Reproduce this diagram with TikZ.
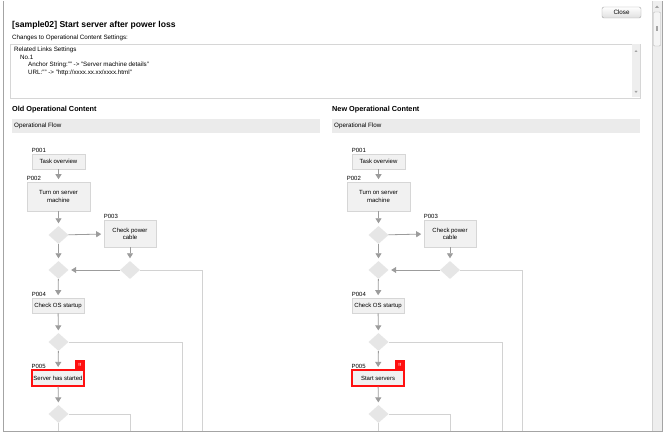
\documentclass[tikz,border=0pt]{standalone}
\usepackage{fontspec}
\setmainfont{Liberation Sans}
\usetikzlibrary{positioning,shapes.geometric,arrows.meta}
\definecolor{framegray}{HTML}{A4A4A4}
\definecolor{boxline}{HTML}{D6D6D6}
\definecolor{boxfill}{HTML}{F1F1F1}
\definecolor{barfill}{HTML}{EBEBEB}
\definecolor{diafill}{HTML}{E6E6E6}
\definecolor{arrowgray}{HTML}{9C9C9C}
\definecolor{linegray}{HTML}{D2D2D2}
\definecolor{scrollfill}{HTML}{EEEEEE}
\definecolor{markred}{HTML}{FF1010}

\begin{document}
\begin{tikzpicture}[
    x=1pt, y=-1pt,
    small/.style={font=\fontsize{6.25}{7.5}\selectfont, inner sep=0pt},
    head/.style={font=\fontsize{7.3}{8.5}\selectfont\bfseries, inner sep=0pt, anchor=west},
    stepbox/.style={draw=boxline, fill=boxfill, line width=0.6pt, align=center,
        font=\fontsize{6}{7.2}\selectfont, inner sep=0pt},
    steplabel/.style={font=\fontsize{6}{7.2}\selectfont, inner sep=0.5pt},
    branch/.style={diamond, fill=diafill, minimum width=20pt, minimum height=18pt, inner sep=0pt},
    flow/.style={draw=arrowgray, line width=0.8pt, shorten >=2.5pt,
        -{Triangle[width=6pt,length=5pt]}},
    side/.style={draw=linegray, line width=0.8pt},
    badge/.style={fill=markred, text=white, font=\fontsize{4.5}{5}\selectfont\bfseries,
        minimum width=10pt, minimum height=9pt, inner sep=0pt},
    ]
\useasboundingbox (0,0) rectangle (664,435);
% window and scroll bar
\fill[white] (0,0) rectangle (664,435);
\draw[framegray, line width=0.8pt] (3,1.5) -- (3,431.5) -- (662.5,431.5) -- (662.5,1.5);
\draw[framegray, line width=1.6pt] (3,431.5) -- (662.5,431.5);
\fill[scrollfill] (652,1) rectangle (662,431);
\draw[linegray] (652,1) -- (652,431);
\fill[framegray] (655,8) -- (659,8) -- (657,5.5) -- cycle;
\draw[framegray!80, fill=white!92!gray, rounded corners=1pt] (653.5,12) rectangle (660.5,46);
\fill[framegray] (656,26) rectangle (658,31);
% close button
\node[draw=framegray, rounded corners=2pt, top color=white, bottom color=gray!25,
    minimum width=39pt, minimum height=11pt, inner sep=0pt, small] (close) at (621.5,12.5) {Close};
% title and settings
\node[font=\fontsize{8.6}{10}\selectfont\bfseries, inner sep=0pt, anchor=west] (title) at (12,25) {[sample02] Start server after power loss};
\node[small, anchor=west] (changes) at (12,38) {Changes to Operational Content Settings:};
\draw[boxline, line width=0.6pt] (10,44) rectangle (640,98);
\fill[scrollfill] (632,44.5) rectangle (639.5,97.5);
\fill[framegray] (634.5,52) -- (637.5,52) -- (636,50) -- cycle;
\fill[framegray] (634.5,91) -- (637.5,91) -- (636,93) -- cycle;
\node[small, anchor=west] (rel) at (14,50) {Related Links Settings};
\node[small, anchor=west] (no) at (20,57.5) {No.1};
\node[small, anchor=west] (anchor) at (28,65) {Anchor String:"" -> "Server machine details"};
\node[small, anchor=west] (url) at (28,72.5) {URL:"" -> "http://xxxx.xx.xx/xxxx.html"};
% the two flows
\foreach \c/\dx/\title/\last in {o/0/Old/Server has started, n/320/New/Start servers}{
\begin{scope}[xshift=\dx pt]
  \node[head] (\c-head) at (12,110) {\title{} Operational Content};
  \fill[barfill] (12,119) rectangle (320,133);
  \node[small, anchor=west] (\c-bar) at (14,126) {Operational Flow};

  \node[stepbox, minimum width=53pt, minimum height=15pt] (\c-p1) at (58.5,161.5) {Task overview};
  \node[stepbox, minimum width=63pt, minimum height=29pt] (\c-p2) at (58.5,196.5) {Turn on server\\machine};
  \node[branch] (\c-d1) at (58.5,235) {};
  \node[stepbox, minimum width=52pt, minimum height=27pt] (\c-p3) at (130,233.5) {Check power\\cable};
  \node[branch] (\c-d2) at (58.5,270) {};
  \node[branch] (\c-d3) at (130,270) {};
  \node[stepbox, minimum width=52pt, minimum height=15pt] (\c-p4) at (58,305.5) {Check OS startup};
  \node[branch] (\c-d4) at (58.5,342) {};
  \node[stepbox, draw=markred, line width=1.1pt, minimum width=52pt, minimum height=16pt] (\c-p5) at (58,378) {\last};
  \node[branch] (\c-d5) at (58.5,414) {};

  \node[steplabel, above right=0pt and -0.5pt of \c-p1.north west] {P001};
  \node[steplabel, above right=0pt and -0.5pt of \c-p2.north west] {P002};
  \node[steplabel, above right=0pt and -0.5pt of \c-p3.north west] {P003};
  \node[steplabel, above right=0pt and -0.5pt of \c-p4.north west] {P004};
  \node[steplabel, above right=0.5pt and -0.5pt of \c-p5.north west] {P005};
  \node[badge, anchor=south east] (\c-mark) at ([xshift=0.5pt]\c-p5.north east) {!!};

  \coordinate (\c-e3) at (202,431);
  \coordinate (\c-e4) at (182,431);
  \coordinate (\c-e5) at (130,431);
  \coordinate (\c-e6) at (58.5,431);

  \draw[flow] (\c-p1) -- (\c-p2);
  \draw[flow] (\c-p2) -- (\c-d1);
  \draw[flow] (\c-d1) -- (\c-p3);
  \draw[flow] (\c-d1) -- (\c-d2);
  \draw[flow] (\c-p3) -- (\c-d3);
  \draw[flow] (\c-d3) -- (\c-d2);
  \draw[flow] (\c-d2) -- (\c-p4);
  \draw[flow] (\c-p4) -- (\c-d4);
  \draw[flow] (\c-d4) -- (\c-p5);
  \draw[flow] (\c-p5) -- (\c-d5);
  \draw[side] (\c-d3.east) -| (\c-e3);
  \draw[side] (\c-d4.east) -| (\c-e4);
  \draw[side] (\c-d5.east) -| (\c-e5);
  \draw[side] (\c-d5.south) -- (\c-e6);
\end{scope}
}
\end{tikzpicture}
\end{document}
